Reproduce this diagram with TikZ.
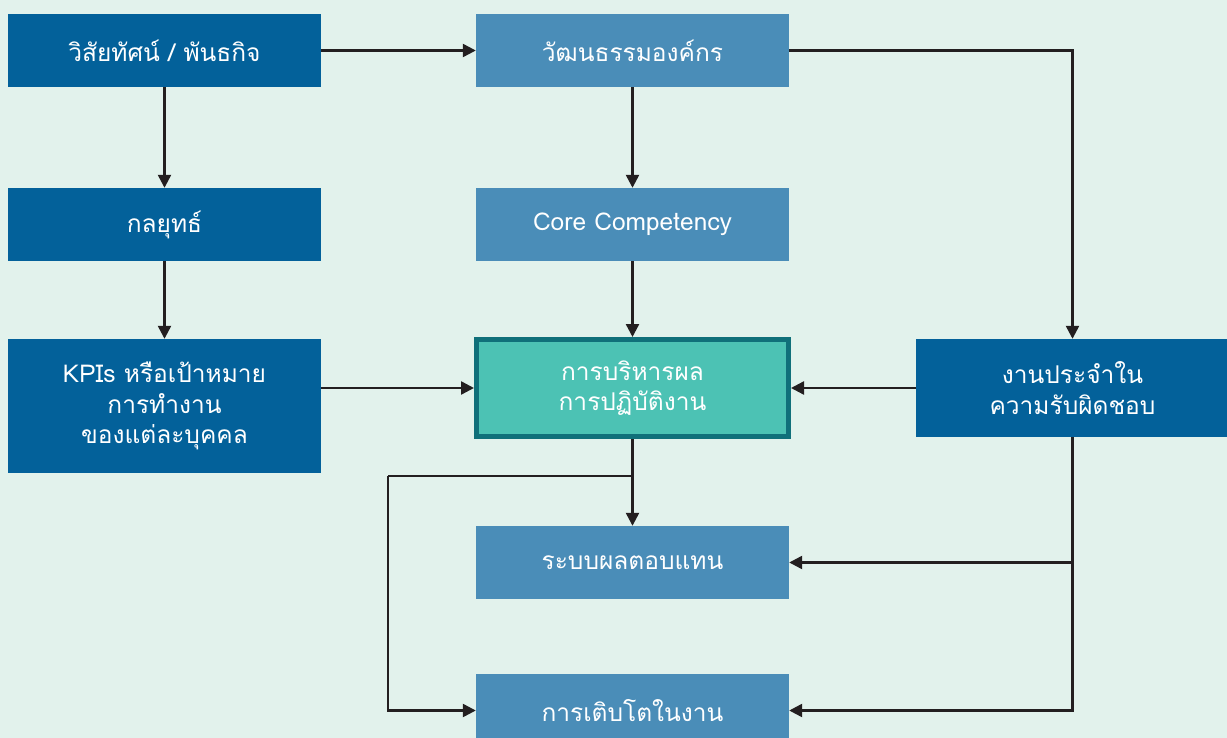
\documentclass[tikz,border=0pt]{standalone}
\usepackage{fontspec}
\newfontfamily\thaifont[Script=Thai]{Loma}
\usetikzlibrary{arrows.meta}
\definecolor{bgmint}{HTML}{E2F2EC}
\definecolor{deepblue}{HTML}{03619A}
\definecolor{softblue}{HTML}{4A8DB8}
\definecolor{tealfill}{HTML}{4CC2B4}
\definecolor{tealedge}{HTML}{10707A}
\definecolor{wire}{HTML}{231F20}
\begin{document}
\begin{tikzpicture}[x=1pt,y=-1pt,
  box/.style={rectangle, inner sep=0pt, minimum width=313pt, minimum height=73pt,
    text=white, align=center, font=\thaifont\fontsize{24.5}{30.5}\selectfont},
  darkbox/.style={box, fill=deepblue},
  lightbox/.style={box, fill=softblue},
  focusbox/.style={box, fill=tealfill, draw=tealedge, line width=5pt,
    minimum width=312pt, minimum height=97pt},
  link/.style={draw=wire, line width=2.4pt, -{Triangle[length=13pt,width=13pt]}},
  plain/.style={draw=wire, line width=2.4pt}]
  % canvas
  \fill[bgmint] (0,0) rectangle (1227,738);
  \useasboundingbox (0,0) rectangle (1227,738);
  \clip (0,0) rectangle (1227,738);

  % boxes
  \node[darkbox] (vision) at (164.5,50.5) {วิสัยทัศน์ / พันธกิจ};
  \node[lightbox] (culture) at (632.5,50.5) {วัฒนธรรมองค์กร};
  \node[darkbox] (strategy) at (164.5,224.5) {กลยุทธ์};
  \node[lightbox] (core) at (632.5,224.5) {Core Competency};
  \node[darkbox, minimum height=134pt] (kpi) at (164.5,406) {KPIs หรือเป้าหมาย\\การทำงาน\\ของแต่ละบุคคล};
  \node[focusbox] (perf) at (632.5,388) {การบริหารผล\\การปฏิบัติงาน};
  \node[darkbox, minimum height=98pt] (duty) at (1072.5,388) {งานประจำใน\\ความรับผิดชอบ};
  \node[lightbox] (reward) at (632.5,562.5) {ระบบผลตอบแทน};
  \node[lightbox] (growth) at (632.5,710.5) {การเติบโตในงาน};

  % junction points
  \coordinate (split) at (632.5,476);
  \coordinate (rail) at (388,476);

  % connectors
  \draw[link] (vision.east) -- (culture.west);
  \draw[link] (culture.east) -| (duty.north);
  \draw[link] (vision.south) -- (strategy.north);
  \draw[link] (strategy.south) -- (kpi.north);
  \draw[link] (culture.south) -- (core.north);
  \draw[link] (core.south) -- (perf.north);
  \draw[link] (perf.west -| kpi.east) -- (perf.west);
  \draw[link] (duty.west) -- (perf.east);
  \draw[link] (perf.south) -- (reward.north);
  \draw[plain] (split) -- (rail);
  \draw[link] (rail) |- (growth.west);
  \draw[link] (duty.south) |- (growth.east);
  \draw[link] (duty.south |- reward.east) -- (reward.east);
\end{tikzpicture}
\end{document}
